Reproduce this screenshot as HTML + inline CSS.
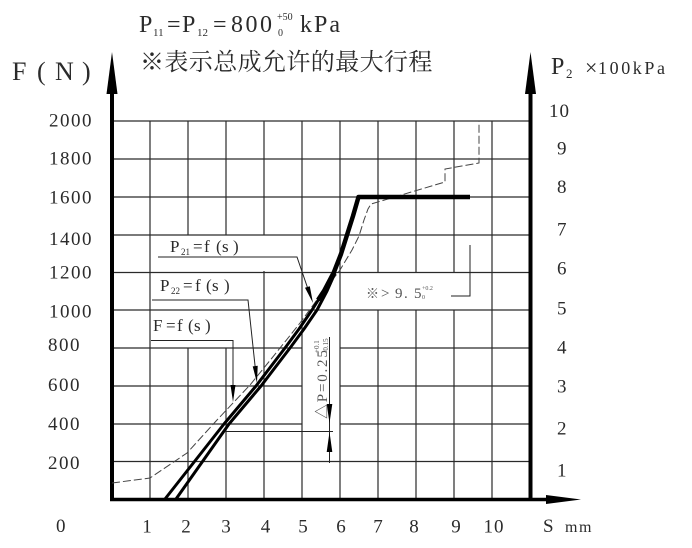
<!DOCTYPE html>
<html>
<head>
<meta charset="utf-8">
<style>
  html,body{margin:0;padding:0;background:#fff;}
  svg{display:block;}
  text{font-family:"Liberation Serif","Noto Serif CJK SC",serif;fill:#2b2b2b;}
  .cjk{font-family:"Liberation Serif","Noto Serif CJK SC","Noto Sans CJK SC",serif;}
</style>
</head>
<body>
<svg width="692" height="548" viewBox="0 0 692 548" xmlns="http://www.w3.org/2000/svg">
  <rect width="692" height="548" fill="#fff"/>

  <!-- Title -->
  <text font-size="24">
    <tspan x="139" y="32">P</tspan><tspan x="153" y="36" font-size="11">11</tspan><tspan x="167" y="32">=</tspan><tspan x="182" y="32">P</tspan><tspan x="197" y="36" font-size="11">12</tspan><tspan x="213" y="32">=</tspan><tspan x="231" y="32" letter-spacing="2.5">800</tspan><tspan x="277" y="20" font-size="10">+50</tspan><tspan x="278" y="36" font-size="10">0</tspan><tspan x="300" y="32" letter-spacing="2">kPa</tspan>
  </text>
  <text class="cjk" x="140" y="70" font-size="24" letter-spacing="0.4">※表示总成允许的最大行程</text>

  <!-- F (N) -->
  <text font-size="26"><tspan x="12" y="80">F</tspan><tspan x="37" y="80">(</tspan><tspan x="55" y="80">N</tspan><tspan x="82" y="80">)</tspan></text>

  <!-- P2 x100kPa -->
  <text font-size="24"><tspan x="551" y="74">P</tspan><tspan x="566" y="78" font-size="13">2</tspan></text>
  <text font-size="22"><tspan x="585" y="75">×</tspan></text>
  <text font-size="18"><tspan x="598" y="74" letter-spacing="2.6">100kPa</tspan></text>

  <!-- Grid -->
  <g stroke="#2a2a2a" stroke-width="1.2" fill="none">
    <line x1="150" y1="121" x2="150" y2="499"/>
    <line x1="188" y1="121" x2="188" y2="235"/><line x1="188" y1="348" x2="188" y2="499"/>
    <line x1="226" y1="121" x2="226" y2="235"/><line x1="226" y1="348" x2="226" y2="499"/>
    <line x1="264" y1="121" x2="264" y2="235"/><line x1="264" y1="271" x2="264" y2="499"/>
    <line x1="302" y1="121" x2="302" y2="499"/>
    <line x1="340" y1="121" x2="340" y2="499"/>
    <line x1="378" y1="121" x2="378" y2="273"/><line x1="378" y1="310" x2="378" y2="499"/>
    <line x1="416" y1="121" x2="416" y2="273"/><line x1="416" y1="310" x2="416" y2="499"/>
    <line x1="454" y1="121" x2="454" y2="273"/><line x1="454" y1="310" x2="454" y2="499"/>
    <line x1="492" y1="121" x2="492" y2="499"/>
    <line x1="112" y1="121" x2="530" y2="121"/>
    <line x1="112" y1="159" x2="530" y2="159"/>
    <line x1="112" y1="197" x2="530" y2="197"/>
    <line x1="112" y1="235" x2="530" y2="235"/>
    <line x1="112" y1="272.5" x2="530" y2="272.5"/>
    <line x1="112" y1="310" x2="530" y2="310"/>
    <line x1="112" y1="348" x2="302" y2="348"/><line x1="340" y1="348" x2="530" y2="348"/>
    <line x1="112" y1="386" x2="302" y2="386"/><line x1="340" y1="386" x2="530" y2="386"/>
    <line x1="112" y1="424" x2="302" y2="424"/><line x1="340" y1="424" x2="530" y2="424"/>
    <line x1="112" y1="461.5" x2="530" y2="461.5"/>
  </g>

  <!-- Axes -->
  <g stroke="#000" fill="none">
    <line x1="112" y1="90" x2="112" y2="501" stroke-width="4"/>
    <line x1="530.5" y1="90" x2="530.5" y2="501" stroke-width="4"/>
    <line x1="110" y1="499.5" x2="552" y2="499.5" stroke-width="3.5"/>
  </g>
  <g fill="#000">
    <polygon points="112,52 106.5,94 117.5,94"/>
    <polygon points="530.5,52 525,94 536,94"/>
    <polygon points="581,499.5 546,495 546,504"/>
  </g>

  <!-- Left labels -->
  <g font-size="19" letter-spacing="1.5">
    <text x="49" y="126.5">2000</text>
    <text x="49" y="164.5">1800</text>
    <text x="49" y="203.5">1600</text>
    <text x="49" y="245">1400</text>
    <text x="49" y="278.5">1200</text>
    <text x="49" y="317.5">1000</text>
    <text x="48" y="351">800</text>
    <text x="48" y="391">600</text>
    <text x="48" y="430">400</text>
    <text x="48" y="469">200</text>
    <text x="56" y="532">0</text>
  </g>
  <!-- Right labels -->
  <g font-size="19" letter-spacing="1">
    <text x="549" y="117">10</text>
    <text x="557" y="154.5">9</text>
    <text x="557" y="193">8</text>
    <text x="557" y="235.5">7</text>
    <text x="557" y="274.5">6</text>
    <text x="557" y="314.5">5</text>
    <text x="557" y="353.5">4</text>
    <text x="557" y="392.5">3</text>
    <text x="557" y="434.5">2</text>
    <text x="557" y="476.5">1</text>
  </g>
  <!-- Bottom labels -->
  <g font-size="19" text-anchor="middle">
    <text x="147" y="532.5">1</text>
    <text x="186" y="532.5">2</text>
    <text x="226" y="532.5">3</text>
    <text x="265.5" y="532.5">4</text>
    <text x="303" y="532.5">5</text>
    <text x="341" y="532.5">6</text>
    <text x="378" y="532.5">7</text>
    <text x="414" y="532.5">8</text>
    <text x="456" y="532.5">9</text>
    <text x="494" y="532.5" letter-spacing="1">10</text>
  </g>
  <text x="543" y="532" font-size="19">S</text>
  <text x="565" y="532" font-size="16" letter-spacing="1.5">mm</text>

  <!-- F = f(s) dashed -->
  <polyline fill="none" stroke="#444" stroke-width="1" stroke-dasharray="8 3"
    points="112,483 150,478 187,453 217,420 250,385 272,358 300,323 322,293 340,270 352,250 359,236 364,220 368,209 371,204 445,182 445,169 479,163 479,121"/>

  <!-- Double thick lines -->
  <polyline fill="none" stroke="#000" stroke-width="3" stroke-linejoin="round"
    points="165,499 224,424 256,386 285,348 299,329 312,310 324,291 334,272"/>
  <polyline fill="none" stroke="#000" stroke-width="3" stroke-linejoin="round"
    points="176,499 229,424 261,386 290,348 304,329 317,310 327,291 335,273"/>
  <polyline fill="none" stroke="#000" stroke-width="4.5" stroke-linejoin="round"
    points="318,300 324,291 334,272 341,254 347,235 353,216 358.5,197 470,197"/>

  <!-- Annotation: P21 -->
  <text font-size="17"><tspan x="170" y="252">P</tspan><tspan x="181" y="255" font-size="9">21</tspan><tspan x="193" y="252">=</tspan><tspan x="204" y="252">f</tspan><tspan x="216" y="252">(</tspan><tspan x="222" y="252">s</tspan><tspan x="233" y="252">)</tspan></text>
  <polyline fill="none" stroke="#222" stroke-width="1" points="158,257 297,257 309,292"/>
  <polygon fill="#000" points="313,303 309.8,286.2 305,287.8"/>

  <!-- Annotation: P22 -->
  <text font-size="17"><tspan x="160" y="291">P</tspan><tspan x="171" y="294" font-size="9">22</tspan><tspan x="183" y="291">=</tspan><tspan x="195" y="291">f</tspan><tspan x="206" y="291">(</tspan><tspan x="212" y="291">s</tspan><tspan x="224" y="291">)</tspan></text>
  <polyline fill="none" stroke="#222" stroke-width="1" points="152,300 248,300 255.5,370"/>
  <polygon fill="#000" points="257,383 257.7,365.8 252.7,366.4"/>

  <!-- Annotation: F -->
  <text font-size="17"><tspan x="153" y="331">F</tspan><tspan x="166" y="331">=</tspan><tspan x="177" y="331">f</tspan><tspan x="188" y="331">(</tspan><tspan x="194" y="331">s</tspan><tspan x="205" y="331">)</tspan></text>
  <polyline fill="none" stroke="#222" stroke-width="1" points="151,340.5 233,340.5 233,388"/>
  <polygon fill="#000" points="233,402 230.5,385 235.5,385"/>

  <!-- Delta P annotation -->
  <line x1="225" y1="431.5" x2="333" y2="431.5" stroke="#222" stroke-width="1"/>
  <line x1="329.5" y1="337" x2="329.5" y2="463" stroke="#222" stroke-width="1"/>
  <polygon fill="#000" points="329.5,423 326.7,404 332.3,404"/>
  <polygon fill="#000" points="329.5,432 326.7,452 332.3,452"/>
  <text transform="translate(327,419) rotate(-90)" font-size="15" style="fill:#555">
    <tspan x="0" y="0" letter-spacing="1.8">△P=0.25</tspan><tspan x="66" y="-8" font-size="7">+0.1</tspan><tspan x="66" y="1" font-size="7">-0.15</tspan>
  </text>

  <!-- >9.5 annotation -->
  <text class="cjk" x="366" y="298" font-size="13" style="fill:#555">※</text>
  <text font-size="15" style="fill:#555"><tspan x="381" y="298">&gt;</tspan><tspan x="395" y="298">9</tspan><tspan x="404" y="298">.</tspan><tspan x="414" y="298">5</tspan><tspan x="422" y="290" font-size="6">+0.2</tspan><tspan x="422" y="299" font-size="6">0</tspan></text>
  <polyline fill="none" stroke="#222" stroke-width="1" points="470,245 470,296 451,296"/>
</svg>
</body>
</html>
